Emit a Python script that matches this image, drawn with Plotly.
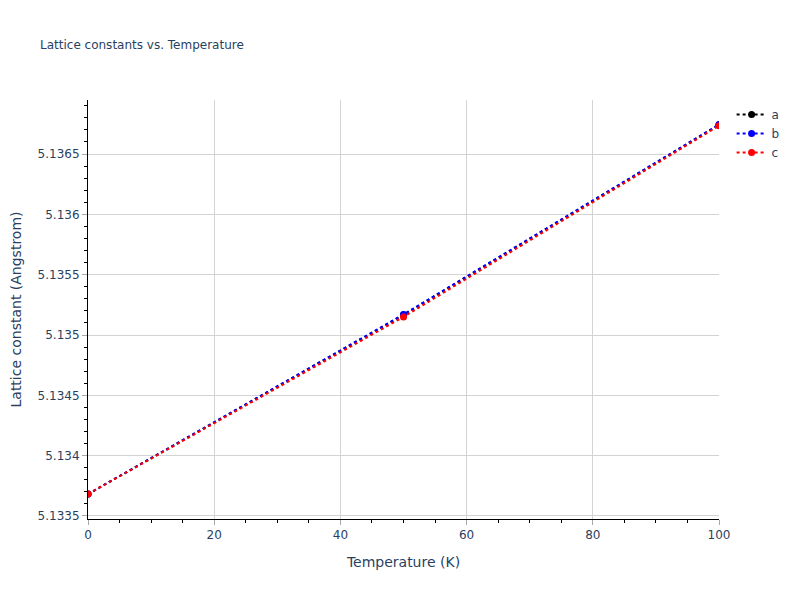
import plotly.graph_objects as go

temperature = [0, 50, 100]
lattice_a = [5.133682, 5.135167, 5.136742]
lattice_b = [5.133682, 5.135170, 5.136745]
lattice_c = [5.133682, 5.135150, 5.136735]

series = [("a", lattice_a, "black"), ("b", lattice_b, "blue"), ("c", lattice_c, "red")]

fig = go.Figure()
for name, values, color in series:
    fig.add_trace(
        go.Scatter(
            x=temperature,
            y=values,
            mode="lines+markers",
            name=name,
            line={"color": color, "dash": "dot", "width": 2},
            marker={"color": color, "size": 7},
        )
    )

# the page puts the figure 8px in from the corner, so margins are shifted to compensate
fig.update_layout(
    width=800,
    height=600,
    template="plotly_white",
    font={"family": "DejaVu Sans, Verdana, sans-serif"},
    title={
        "text": "Lattice constants vs. Temperature",
        "font": {"size": 12},
        "x": 0.04,
        "xanchor": "left",
        "y": 0.938,
        "yanchor": "middle",
    },
    margin={"l": 80, "r": 89, "t": 92, "b": 89},
)
fig.update_xaxes(
    title_text="Temperature (K)",
    range=[0, 100],
    showline=True,
    linecolor="black",
    gridcolor="lightgrey",
    ticks="outside",
    tickcolor="darkgrey",
    minor={"ticks": "outside", "dtick": 5, "tickcolor": "black", "showgrid": False},
    zeroline=False,
)
fig.update_yaxes(
    title_text="Lattice constant (Angstrom)",
    range=[5.133475, 5.136948],
    dtick=0.0005,
    automargin=False,
    showline=True,
    linecolor="black",
    gridcolor="lightgrey",
    ticks="outside",
    tickcolor="darkgrey",
    minor={"ticks": "outside", "dtick": 0.0001, "tickcolor": "black", "showgrid": False},
    zeroline=False,
)

fig.write_html("out.html")
